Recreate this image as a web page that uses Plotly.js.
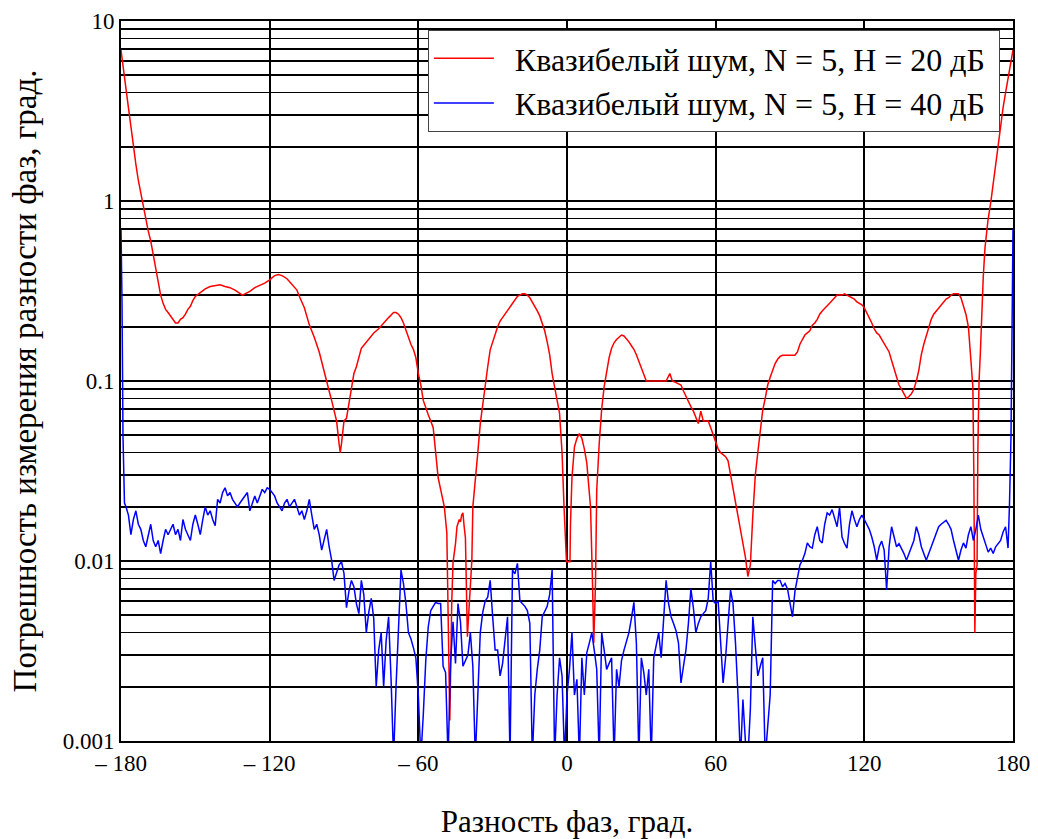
<!DOCTYPE html>
<html><head><meta charset="utf-8">
<script src="https://cdn.plot.ly/plotly-3.0.1.min.js"></script>
<style>html,body{margin:0;padding:0;background:#fff}#c{width:1038px;height:839px}</style>
</head><body><div id="c"></div>
<script>
// Red series: квазибелый шум, N = 5, H = 20 дБ
const redX = [-180,-179,-178,-177,-176,-175,-174,-173,-172,-171,-170,-169,-168,-167,-166,-165,-164,-163,-162,-161,-160,-159,-158,-157,-156,-155,-154,-153,-152,-151,-150,-148,-146,-144,-142,-140,-138,-136,-134,-132,-131,-130,-128,-126,-124,-122,-120,-118,-116.5,-115,-113,-111,-109,-108,-106,-104,-102,-100,-98,-96,-95,-94,-93,-92,-91.5,-91,-90,-89,-88,-87,-86,-85,-84,-83,-82,-80,-78,-76,-74,-72,-70,-69,-68,-67,-66,-65,-64,-63,-62,-61,-60,-59,-58,-57,-56,-55,-54,-53,-52,-51,-50,-49.5,-48.5,-48,-47.3,-46.5,-46,-45,-44.4,-43.5,-43,-42.5,-42,-41.5,-41,-40.2,-39,-38.4,-38,-37,-36,-35,-34,-33,-32,-31,-30,-29,-28,-27,-26,-25,-24,-23,-22,-21,-20,-19,-18,-17,-16,-15,-14,-13,-12,-11,-10,-9,-8,-7,-6,-5,-4,-3,-2,-1.6,-1.2,-0.2,0.8,1.2,1.4,2,3,4,5,6,7,8,9,9.5,10.3,10.8,11.5,12,13,14,15,16,17,18,19,20,21,22,23,24,25,26,27,28,29,30,31,32,34,36,38,40,41.5,42.5,44,46,47,48,49,50,51,52,53,54,55,56,57,58,59,60,61,62,63,64,65,66,67,68,69,70,71,72,73,74,75,76,77,78,79,80,81,82,83,84,85,86,87,88,90,92,93,94,95,96,97,98,99,100,101,102,103,104,105,106,107,108,109,110,111,112,113,114,115,116,117,118,119,120,121,122,123,124,125,126,127,128,129,130,131,132,133,134,135,136,137,138,139,140,141,142,143,144,145,146,147,148,149,150,151,152,153,154,155,156,157,158,159,160,161,162,162.6,163.2,163.8,164.2,164.6,165,165.5,165.8,166.3,166.8,167.4,168,168.7,169.9,171.1,172,173,174,175,176,177,178,179,180];
const redY = [6.9,5.5,4.2,3.3,2.6,2.0,1.6,1.3,1.1,0.95,0.8,0.68,0.6,0.5,0.42,0.36,0.3,0.27,0.25,0.24,0.23,0.22,0.21,0.21,0.22,0.225,0.235,0.25,0.26,0.28,0.295,0.31,0.325,0.335,0.34,0.342,0.335,0.33,0.32,0.305,0.3,0.305,0.315,0.33,0.34,0.35,0.365,0.385,0.39,0.385,0.37,0.345,0.32,0.295,0.255,0.205,0.175,0.145,0.115,0.088,0.078,0.068,0.06,0.045,0.04,0.045,0.06,0.062,0.075,0.095,0.11,0.12,0.138,0.152,0.158,0.17,0.185,0.195,0.21,0.225,0.24,0.24,0.235,0.225,0.21,0.19,0.175,0.16,0.15,0.135,0.11,0.095,0.078,0.07,0.065,0.06,0.055,0.04,0.029,0.025,0.021,0.02,0.0143,0.004,0.0013,0.006,0.0098,0.0125,0.0155,0.017,0.0165,0.018,0.0185,0.0155,0.0135,0.0038,0.0075,0.0101,0.02,0.03,0.04,0.058,0.075,0.093,0.12,0.149,0.165,0.18,0.2,0.215,0.225,0.235,0.245,0.26,0.27,0.285,0.295,0.3,0.305,0.305,0.3,0.29,0.275,0.26,0.245,0.23,0.21,0.19,0.165,0.14,0.11,0.092,0.078,0.066,0.04,0.024,0.02,0.0099,0.0099,0.0099,0.016,0.029,0.043,0.048,0.051,0.048,0.042,0.035,0.024,0.02,0.0075,0.0035,0.0075,0.0248,0.045,0.07,0.093,0.115,0.135,0.152,0.163,0.17,0.175,0.18,0.178,0.172,0.165,0.157,0.15,0.14,0.128,0.12,0.11,0.1,0.1,0.1,0.1,0.1,0.11,0.1,0.098,0.095,0.088,0.082,0.078,0.072,0.068,0.062,0.058,0.068,0.06,0.06,0.06,0.055,0.05,0.046,0.042,0.04,0.039,0.038,0.036,0.03,0.025,0.021,0.018,0.015,0.0126,0.0105,0.0082,0.0095,0.018,0.03,0.04,0.055,0.069,0.08,0.095,0.105,0.115,0.125,0.132,0.137,0.139,0.139,0.139,0.139,0.145,0.16,0.17,0.18,0.185,0.19,0.204,0.21,0.22,0.235,0.245,0.255,0.262,0.27,0.28,0.29,0.3,0.3,0.3,0.305,0.3,0.295,0.29,0.285,0.275,0.27,0.265,0.255,0.24,0.225,0.21,0.195,0.185,0.18,0.17,0.16,0.152,0.145,0.13,0.118,0.105,0.095,0.09,0.084,0.08,0.082,0.085,0.09,0.1,0.115,0.14,0.16,0.18,0.2,0.22,0.235,0.245,0.255,0.265,0.275,0.285,0.29,0.3,0.305,0.305,0.305,0.29,0.26,0.235,0.2,0.149,0.11,0.093,0.03,0.004,0.0085,0.0095,0.04,0.1,0.14,0.25,0.38,0.55,0.78,1.0,1.25,1.6,2.1,2.7,3.3,4.0,4.8,5.8,6.9];

// Blue series: квазибелый шум, N = 5, H = 40 дБ
const blueX = [-180,-179.6,-179.2,-178.6,-178,-177,-176,-175,-174,-173,-172,-171,-170,-169,-168,-167,-166,-165,-164,-163,-162,-161,-160,-159,-158,-157,-156,-155,-154,-153,-152,-151,-150,-149,-148,-147,-146,-145,-144,-143,-142,-141,-140,-139,-138,-137,-136,-135,-134,-133,-132,-131,-130,-129,-128,-127,-126,-125,-124,-123,-122,-121,-120,-119,-118,-117,-116,-115,-114,-113,-112,-111,-110,-109,-108,-107,-106,-105,-104,-103,-102,-101,-100,-99,-98,-97,-96,-95,-94,-93,-92,-91,-90,-89,-88,-87,-86,-85,-84,-83,-82,-81,-80,-79,-78,-77,-76,-75,-74,-73,-72,-71,-70,-69,-68,-67,-66,-65,-64,-63,-62,-61,-60,-59,-58,-57,-56,-55,-54,-53,-52,-51,-50,-49,-48,-47,-46,-45,-44,-43,-42,-41,-40,-39,-38,-37,-36,-35,-34,-33,-32,-31,-30,-29,-28,-27,-26,-25,-24,-23,-22,-21,-20,-19,-18,-17,-16,-15,-14,-13,-12,-11,-10,-9,-8,-7,-6,-5,-4,-3,-2,-1,0,1,2,3,4,5,6,7,8,9,10,11,12,13,14,15,16,17,18,19,20,21,22,23,24,25,26,27,28,29,30,31,32,33,34,35,36,37,38,39,40,41,42,43,44,45,46,47,48,49,50,51,52,53,54,55,56,57,58,59,60,61,62,63,64,65,66,67,68,69,70,71,72,73,74,75,76,77,78,79,80,81,82,83,84,85,86,87,88,89,90,91,92,93,94,95,96,97,98,99,100,101,102,103,104,105,106,107,108,109,110,111,112,113,114,115,116,117,118,119,120,121,122,123,124,125,126,127,128,129,130,131,132,133,134,135,136,137,138,139,140,141,142,143,144,145,146,147,148,149,150,151,152,153,154,155,156,157,158,159,160,161,162,163,164,165,166,167,168,169,170,171,172,173,174,175,176,177,178,178.6,179.2,179.6,180];
const blueY = [0.7,0.28,0.05,0.021,0.02,0.018,0.014,0.017,0.019,0.016,0.015,0.013,0.012,0.014,0.016,0.013,0.012,0.013,0.011,0.013,0.015,0.014,0.015,0.016,0.014,0.015,0.013,0.017,0.015,0.014,0.013,0.016,0.018,0.016,0.014,0.017,0.02,0.018,0.019,0.017,0.0157,0.022,0.021,0.024,0.0255,0.023,0.024,0.022,0.021,0.02,0.021,0.022,0.023,0.024,0.019,0.021,0.023,0.021,0.023,0.025,0.024,0.0255,0.025,0.024,0.023,0.021,0.02,0.019,0.021,0.022,0.02,0.021,0.022,0.02,0.018,0.019,0.017,0.019,0.022,0.018,0.015,0.016,0.014,0.0115,0.013,0.015,0.012,0.0101,0.0078,0.0085,0.0095,0.0099,0.0085,0.0055,0.0068,0.0078,0.0072,0.0058,0.0051,0.0078,0.0065,0.004,0.0052,0.0062,0.0048,0.002,0.0032,0.004,0.002,0.0036,0.0049,0.0022,0.0008,0.002,0.0045,0.0089,0.0075,0.0058,0.004,0.0037,0.0033,0.0029,0.0018,0.0008,0.0014,0.0028,0.0043,0.0053,0.0056,0.0059,0.0058,0.0058,0.0026,0.0024,0.0008,0.0027,0.0046,0.0027,0.0058,0.0046,0.0026,0.0028,0.003,0.004,0.0026,0.0008,0.0018,0.004,0.0052,0.006,0.0063,0.0078,0.0049,0.0032,0.0032,0.0023,0.0027,0.0035,0.0049,0.0008,0.0089,0.0085,0.0097,0.006,0.0058,0.0056,0.0053,0.0045,0.0008,0.0018,0.0025,0.0032,0.0049,0.0052,0.0056,0.0065,0.0089,0.0008,0.0018,0.0029,0.0023,0.0008,0.0018,0.0025,0.004,0.0018,0.0022,0.0008,0.0029,0.0018,0.0031,0.0035,0.004,0.0032,0.0025,0.0008,0.004,0.0032,0.0025,0.0027,0.0029,0.0008,0.0025,0.002,0.0028,0.0032,0.0036,0.004,0.0048,0.0059,0.0035,0.0008,0.0029,0.0024,0.0018,0.0025,0.0008,0.0029,0.0034,0.004,0.0029,0.0045,0.0078,0.0058,0.0049,0.0045,0.0041,0.0035,0.0021,0.0026,0.0032,0.0045,0.007,0.0055,0.004,0.0045,0.0049,0.0051,0.0053,0.0062,0.0099,0.006,0.0058,0.006,0.0035,0.0021,0.0029,0.0045,0.0069,0.0058,0.0035,0.0018,0.0008,0.0017,0.001,0.0008,0.0015,0.0049,0.0035,0.0023,0.0026,0.0029,0.0008,0.0012,0.0018,0.0078,0.0075,0.0078,0.0078,0.0072,0.0075,0.007,0.0058,0.0049,0.0068,0.008,0.0095,0.0101,0.011,0.0126,0.012,0.0118,0.014,0.0155,0.013,0.0126,0.016,0.0185,0.018,0.0193,0.017,0.0155,0.0198,0.0136,0.0125,0.0118,0.016,0.019,0.017,0.0155,0.017,0.018,0.017,0.016,0.015,0.0136,0.012,0.0101,0.012,0.0129,0.0115,0.0069,0.012,0.0155,0.0135,0.012,0.0125,0.0118,0.011,0.0101,0.011,0.0118,0.013,0.0155,0.014,0.012,0.011,0.0101,0.011,0.012,0.013,0.014,0.0155,0.016,0.0165,0.0168,0.016,0.015,0.013,0.0115,0.0101,0.0115,0.0126,0.0118,0.014,0.0155,0.013,0.015,0.018,0.015,0.0136,0.012,0.0112,0.0118,0.011,0.012,0.0125,0.013,0.0145,0.0155,0.0118,0.021,0.05,0.25,0.7];

const seriesNames = ['\u00a0\u00a0Квазибелый шум, N = 5, H = 20 дБ\u00a0', '\u00a0\u00a0Квазибелый шум, N = 5, H = 40 дБ\u00a0'];
const xTickVals = [-180, -120, -60, 0, 60, 120, 180];
const xTickText = ['\u2013 180', '\u2013 120', '\u2013 60', '0', '60', '120', '180'];
const yDecades = [0.001, 0.01, 0.1, 1, 10];
const yDecadeLabels = ['0.001', '0.01', '0.1', '1', '10'];
const xTitle = 'Разность фаз, град.';
const yTitle = 'Погрешность измерения разности фаз, град.';

// log grid: every digit 1..9 in each decade, labels only at decades
const yTickVals = [], yTickText = [];
yDecades.forEach((d, i) => {
  const digits = (i === yDecades.length - 1) ? [1] : [1,2,3,4,5,6,7,8,9];
  digits.forEach(k => {
    yTickVals.push(+(d * k).toPrecision(3));
    yTickText.push(k === 1 ? yDecadeLabels[i] : '');
  });
});

const SERIF = 'Liberation Serif';

const traces = [
  {x: redX, y: redY, name: seriesNames[0], type: 'scatter', mode: 'lines',
   line: {color: '#ff0000', width: 1.5}},
  {x: blueX, y: blueY, name: seriesNames[1], type: 'scatter', mode: 'lines',
   line: {color: '#0000ff', width: 1.5}}
];

const layout = {
  width: 1038, height: 839,
  paper_bgcolor: '#fff', plot_bgcolor: '#fff',
  margin: {l: 121, r: 25, t: 21, b: 98},
  font: {family: SERIF, color: '#000', size: 23},
  showlegend: true,
  legend: {
    x: 0.344, y: 0.9875, xanchor: 'left', yanchor: 'top',
    bgcolor: '#fff', bordercolor: '#444', borderwidth: 1,
    font: {family: SERIF, size: 32, color: '#000'},
    itemwidth: 60, tracegroupgap: 0
  },
  xaxis: {
    range: [-180, 180], autorange: false,
    tickmode: 'array', tickvals: xTickVals, ticktext: xTickText,
    ticks: '', showgrid: true, gridcolor: '#000', gridwidth: 1.7,
    showline: true, mirror: true, linecolor: '#000', linewidth: 2,
    zeroline: false,
    tickfont: {family: SERIF, size: 23, color: '#000'},
    title: {text: xTitle, font: {family: SERIF, size: 31, color: '#000'}, standoff: 36}
  },
  yaxis: {
    type: 'log', range: [-3, 1], autorange: false,
    tickmode: 'array', tickvals: yTickVals, ticktext: yTickText,
    ticks: '', showgrid: true, gridcolor: '#000', gridwidth: 1.7,
    showline: true, mirror: true, linecolor: '#000', linewidth: 2,
    zeroline: false,
    tickfont: {family: SERIF, size: 23, color: '#000'},
    title: {text: yTitle, font: {family: SERIF, size: 33, color: '#000'}, standoff: 16}
  }
};

Plotly.newPlot('c', traces, layout, {staticPlot: true, displayModeBar: false});
</script>
</body></html>
